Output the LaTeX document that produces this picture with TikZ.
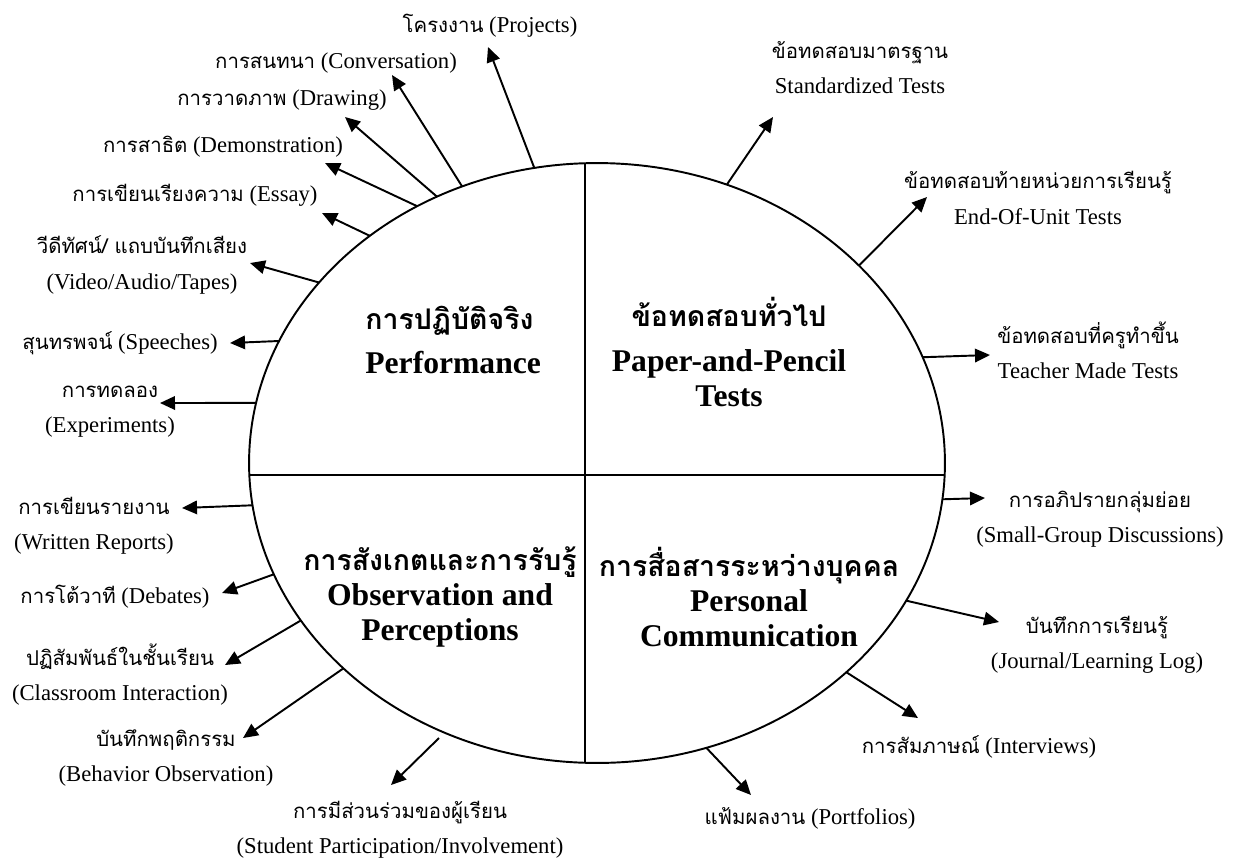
\documentclass[tikz,border=0pt]{standalone}
\usepackage{fontspec}
\setmainfont{Liberation Serif}
\newfontfamily\thaifont[Script=Thai,Scale=0.9]{Loma}
\newcommand{\tha}[1]{{\thaifont #1}}
\usepackage{tikz}
\usetikzlibrary{arrows.meta}
\usetikzlibrary{shapes.geometric}
\usetikzlibrary{positioning}
\tikzset{lbl/.style={font=\fontsize{12.9}{20}\selectfont,align=center,inner sep=0pt}}
\tikzset{ttl/.style={font=\fontsize{18}{20}\selectfont\bfseries,align=center,inner sep=0pt}}

\begin{document}
\begin{tikzpicture}[
  x=0.02cm,y=-0.02cm,
  link/.style={-{Triangle[length=3mm,width=2.7mm]},line width=1.1pt},
  rule/.style={line width=1.1pt},
  every node/.style={align=center}]

  \useasboundingbox (0,0) rectangle (1239,859);

  % The quartered ellipse in the middle
  \node[draw,ellipse,rule,minimum width=13.92cm,minimum height=12cm,
    inner sep=0pt,outer sep=0pt] (wheel) at (597,463) {};
  \draw[rule] (249.3,475) -- (944.7,475);
  \draw[rule] (585,163.2) -- (585,762.8);

  \node[ttl,align=left,anchor=west] (perf) at (365,340)
    {\tha{การปฏิบัติจริง}\\[5pt]Performance};
  \node[ttl] (paper) at (729,352)
    {\tha{ข้อทดสอบทั่วไป}\\[6pt]Paper-and-Pencil\\Tests};
  \node[ttl] (obs) at (440,597)
    {\tha{การสังเกตและการรับรู้}\\Observation and\\Perceptions};
  \node[ttl] (pers) at (749,597)
    {\tha{การสื่อสารระหว่างบุคคล}\\Personal\\Communication};

  % Labels round the ellipse
  \node[lbl] (projects) at (490,26) {\tha{โครงงาน} (Projects)};
  \node[lbl] (conv) at (336,63) {\tha{การสนทนา} (Conversation)};
  \node[lbl] (drawing) at (282,100) {\tha{การวาดภาพ} (Drawing)};
  \node[lbl] (demo) at (223,147) {\tha{การสาธิต} (Demonstration)};
  \node[lbl] (essay) at (195,195) {\tha{การเขียนเรียงความ} (Essay)};
  \node[lbl] (video) at (142,265) {\tha{วีดีทัศน์/ แถบบันทึกเสียง}\\(Video/Audio/Tapes)};
  \node[lbl] (speech) at (120,343) {\tha{สุนทรพจน์} (Speeches)};
  \node[lbl] (expt) at (110,412) {\tha{การทดลอง}\\(Experiments)};
  \node[lbl] (report) at (94,526) {\tha{การเขียนรายงาน}\\(Written Reports)};
  \node[lbl] (debate) at (115,597) {\tha{การโต้วาที} (Debates)};
  \node[lbl] (class) at (120,675) {\tha{ปฏิสัมพันธ์ในชั้นเรียน}\\(Classroom Interaction)};
  \node[lbl] (behav) at (166,758) {\tha{บันทึกพฤติกรรม}\\(Behavior Observation)};
  \node[lbl] (student) at (400,830) {\tha{การมีส่วนร่วมของผู้เรียน}\\(Student Participation/Involvement)};
  \node[lbl] (portf) at (810,818) {\tha{แฟ้มผลงาน} (Portfolios)};
  \node[lbl] (interv) at (979,747) {\tha{การสัมภาษณ์} (Interviews)};
  \node[lbl] (journal) at (1097,645) {\tha{บันทึกการเรียนรู้}\\(Journal/Learning Log)};
  \node[lbl] (discuss) at (1100,519) {\tha{การอภิปรายกลุ่มย่อย}\\(Small-Group Discussions)};
  \node[lbl] (teacher) at (1088,350) {\tha{ข้อทดสอบที่ครูทำขึ้น}\\Teacher Made Tests};
  \node[lbl] (unit) at (1038,198) {\tha{ข้อทดสอบท้ายหน่วยการเรียนรู้}\\End-Of-Unit Tests};
  \node[lbl] (stand) at (860,68) {\tha{ข้อทดสอบมาตรฐาน}\\Standardized Tests};

  % Arrow tips
  \coordinate (projects-tip) at (488,47);
  \coordinate (conv-tip) at (392,75);
  \coordinate (drawing-tip) at (345,117);
  \coordinate (demo-tip) at (325,163);
  \coordinate (essay-tip) at (322,213);
  \coordinate (video-tip) at (250,263);
  \coordinate (speech-tip) at (230,343);
  \coordinate (expt-tip) at (160,403);
  \coordinate (report-tip) at (182,508);
  \coordinate (debate-tip) at (222,593);
  \coordinate (class-tip) at (225,665);
  \coordinate (behav-tip) at (243,738);
  \coordinate (student-tip) at (391,785);
  \coordinate (student-foot) at (439,738);
  \coordinate (portf-tip) at (751,795);
  \coordinate (interv-tip) at (918,718);
  \coordinate (journal-tip) at (999,622);
  \coordinate (discuss-tip) at (985,498);
  \coordinate (teacher-tip) at (990,355);
  \coordinate (unit-tip) at (927,197);
  \coordinate (stand-tip) at (773,117);

  \draw[link] (wheel.102) -- (projects-tip);
  \draw[link] (wheel.116) -- (conv-tip);
  \draw[link] (wheel.121) -- (drawing-tip);
  \draw[link] (wheel.125) -- (demo-tip);
  \draw[link] (wheel.135) -- (essay-tip);
  \draw[link] (wheel.147) -- (video-tip);
  \draw[link] (wheel.159) -- (speech-tip);
  \draw[link] (wheel.170) -- (expt-tip);
  \draw[link] (wheel.187) -- (report-tip);
  \draw[link] (wheel.199) -- (debate-tip);
  \draw[link] (wheel.208) -- (class-tip);
  \draw[link] (wheel.219) -- (behav-tip);
  \draw[link] (student-foot) -- (student-tip);
  \draw[link] (wheel.291) -- (portf-tip);
  \draw[link] (wheel.320) -- (interv-tip);
  \draw[link] (wheel.336) -- (journal-tip);
  \draw[link] (wheel.354) -- (discuss-tip);
  \draw[link] (wheel.18) -- (teacher-tip);
  \draw[link] (wheel.37) -- (unit-tip);
  \draw[link] (wheel.65) -- (stand-tip);
\end{tikzpicture}
\end{document}
